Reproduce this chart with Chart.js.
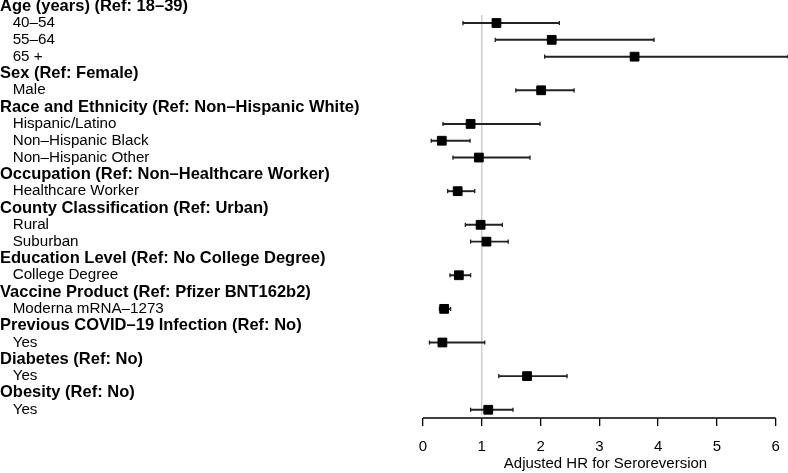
<!DOCTYPE html>
<html>
<head>
<meta charset="utf-8">
<script src="https://cdn.jsdelivr.net/npm/chart.js@4.4.1/dist/chart.umd.min.js"></script>
<style>
  html, body { margin: 0; padding: 0; background: #fff; }
  #wrap { width: 788px; height: 473px; }
</style>
</head>
<body>
<div id="wrap"><canvas id="forest"></canvas></div>
<script>
// rows from top to bottom, headers in bold
const rowLabels = [
    'Age (years) (Ref: 18–39)', '40–54', '55–64', '65 +',
    'Sex (Ref: Female)', 'Male',
    'Race and Ethnicity (Ref: Non–Hispanic White)', 'Hispanic/Latino', 'Non–Hispanic Black', 'Non–Hispanic Other',
    'Occupation (Ref: Non–Healthcare Worker)', 'Healthcare Worker',
    'County Classification (Ref: Urban)', 'Rural', 'Suburban',
    'Education Level (Ref: No College Degree)', 'College Degree',
    'Vaccine Product (Ref: Pfizer BNT162b2)', 'Moderna mRNA–1273',
    'Previous COVID–19 Infection (Ref: No)', 'Yes',
    'Diabetes (Ref: No)', 'Yes',
    'Obesity (Ref: No)', 'Yes'
];
const isHeader = [true, false, false, false, true, false, true, false, false, false, true, false,
    true, false, false, true, false, true, false, true, false, true, false, true, false];

// hazard ratios and 95% CI (null on header rows)
const hr     = [null, 1.25, 2.19, 3.60, null, 2.01, null, 0.81, 0.32, 0.95, null, 0.59,
    null, 0.98, 1.08, null, 0.61, null, 0.36, null, 0.33, null, 1.77, null, 1.11];
const ciLow  = [null, 0.68, 1.23, 2.07, null, 1.58, null, 0.34, 0.14, 0.51, null, 0.42,
    null, 0.72, 0.81, null, 0.46, null, 0.28, null, 0.11, null, 1.29, null, 0.81];
const ciHigh = [null, 2.32, 3.93, 6.21, null, 2.57, null, 1.99, 0.80, 1.82, null, 0.88,
    null, 1.35, 1.45, null, 0.81, null, 0.47, null, 1.05, null, 2.45, null, 1.53];

const xTicks = [0, 1, 2, 3, 4, 5, 6];
const refHR = 1;

const FONT = '"Liberation Sans", Arial, Helvetica, sans-serif';
Chart.defaults.font.family = FONT;
Chart.defaults.color = '#000';

const itemRows = rowLabels.map((_, i) => i).filter(i => hr[i] !== null);

// grey line at HR = 1 and the R-style axis line between first and last tick
const forestExtras = {
    id: 'forestExtras',
    beforeDatasetsDraw(chart) {
        const { ctx, chartArea, scales } = chart;
        const px = scales.x.getPixelForValue(refHR);
        ctx.save();
        ctx.strokeStyle = '#c8c8c8';
        ctx.lineWidth = 1.3;
        ctx.beginPath();
        ctx.moveTo(px, chartArea.top + 15);
        ctx.lineTo(px, chartArea.bottom - 3);
        ctx.stroke();
        ctx.restore();
    },
    afterDraw(chart) {
        const { ctx, scales } = chart;
        const x = scales.x;
        ctx.save();
        ctx.strokeStyle = '#000';
        ctx.lineWidth = 1.3;
        ctx.beginPath();
        ctx.moveTo(x.getPixelForValue(xTicks[0]), x.top);
        ctx.lineTo(x.getPixelForValue(xTicks[xTicks.length - 1]), x.top);
        ctx.stroke();
        ctx.restore();
    }
};

new Chart(document.getElementById('forest'), {
    type: 'scatter',
    data: {
        datasets: [
            {
                type: 'scatter',
                data: itemRows.map(i => ({ x: hr[i], y: i })),
                pointStyle: 'rect',
                radius: 6.2,
                backgroundColor: '#000',
                borderColor: '#000',
                borderWidth: 1,
                order: 0
            },
            {
                type: 'scatter',
                data: itemRows.flatMap(i => [{ x: ciLow[i], y: i }, { x: ciHigh[i], y: i }]),
                pointStyle: 'line',
                rotation: 90,
                radius: 2.1,
                borderColor: '#222',
                borderWidth: 1.3,
                order: 1
            },
            {
                type: 'bar',
                indexAxis: 'y',
                data: itemRows.map(i => ({ y: i, x: [ciLow[i], ciHigh[i]] })),
                barThickness: 1.3,
                grouped: false,
                backgroundColor: '#222',
                borderWidth: 0,
                order: 2
            }
        ]
    },
    options: {
        responsive: true,
        maintainAspectRatio: false,
        animation: false,
        layout: { padding: 0, autoPadding: false },
        plugins: {
            legend: { display: false },
            tooltip: { enabled: false }
        },
        scales: {
            x: {
                type: 'linear',
                min: 0,
                max: 6.21,
                offset: false,
                afterBuildTicks: (scale) => {
                    scale.ticks = xTicks.map(v => ({ value: v }));
                },
                afterFit: (scale) => {
                    scale.height = 55;
                    scale.paddingLeft = 0;
                    scale.paddingRight = 0;
                },
                border: { display: false },
                grid: {
                    offset: false,
                    drawOnChartArea: false,
                    drawTicks: true,
                    tickLength: 8,
                    color: '#000',
                    lineWidth: 1.3
                },
                ticks: {
                    padding: 12,
                    maxRotation: 0,
                    autoSkip: false,
                    font: { size: 15 },
                    color: '#000'
                },
                title: {
                    display: true,
                    text: 'Adjusted HR for Seroreversion',
                    font: { size: 15 },
                    color: '#000',
                    padding: { top: 0, bottom: 0 }
                }
            },
            y: {
                type: 'linear',
                reverse: true,
                min: -0.37,
                max: 24.49,
                offset: false,
                afterBuildTicks: (scale) => {
                    scale.ticks = rowLabels.map((_, i) => ({ value: i }));
                },
                afterFit: (scale) => {
                    scale.width = 423;
                    scale.paddingTop = 0;
                    scale.paddingBottom = 0;
                },
                border: { display: false },
                grid: { display: false, offset: false },
                ticks: {
                    crossAlign: 'far',
                    autoSkip: false,
                    color: '#000',
                    font: (ctx) => isHeader[ctx.index]
                        ? { size: 16.5, weight: 'bold' }
                        : { size: 15.2 },
                    callback: (value, index) => isHeader[index] ? rowLabels[index] : '   ' + rowLabels[index]
                }
            }
        }
    },
    plugins: [forestExtras]
});
</script>
</body>
</html>
